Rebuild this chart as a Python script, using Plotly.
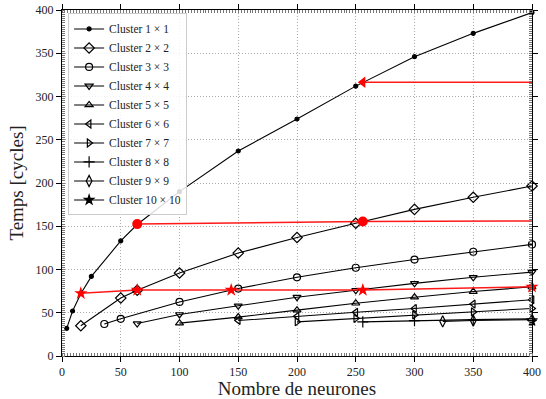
import plotly.graph_objects as go

# ---- data ----
x_c1 = [4, 9, 16, 25, 50, 64, 100, 150, 200, 250, 300, 350, 400]
y_c1 = [32, 52, 72, 92, 133, 152, 190, 237, 274, 312, 346, 373, 397]
x_c2 = [16, 50, 64, 100, 150, 200, 250, 300, 350, 400]
y_c2 = [35, 67, 76, 96, 119, 137, 153.5, 169.5, 183.5, 196.5]
x_c3 = [36, 50, 100, 150, 200, 250, 300, 350, 400]
y_c3 = [37, 43, 62.5, 78, 91, 102, 111.5, 120.5, 129]
x_c4 = [64, 100, 150, 200, 250, 300, 350, 400]
y_c4 = [37.5, 48, 58, 68, 76, 84, 91, 97]
x_c5 = [100, 150, 200, 250, 300, 350, 400]
y_c5 = [38, 45, 53, 61, 68, 74.5, 80]
x_c6 = [150, 200, 250, 300, 350, 400]
y_c6 = [41, 46, 50.5, 55, 60, 65]
x_c7 = [200, 250, 300, 350, 400]
y_c7 = [39.5, 43.5, 47.5, 51, 55]
x_c8 = [256, 300, 350, 400]
y_c8 = [39.5, 41, 42, 43]
x_c9 = [324, 350, 400]
y_c9 = [40, 41, 42]
x_c10 = [400]
y_c10 = [40]

names = ["Cluster 1 × 1", "Cluster 2 × 2", "Cluster 3 × 3", "Cluster 4 × 4",
         "Cluster 5 × 5", "Cluster 6 × 6", "Cluster 7 × 7", "Cluster 8 × 8",
         "Cluster 9 × 9", "Cluster 10 × 10"]

# red annotation series
x_arrow = [256, 400]
y_arrow = [316.5, 316.5]
x_circ = [64, 256, 400]
y_circ = [152.5, 155.5, 156]
x_star = [16, 64, 144, 256, 400]
y_star = [72.5, 76.3, 76.3, 76.3, 80]

series = [(x_c1, y_c1), (x_c2, y_c2), (x_c3, y_c3), (x_c4, y_c4), (x_c5, y_c5),
          (x_c6, y_c6), (x_c7, y_c7), (x_c8, y_c8), (x_c9, y_c9), (x_c10, y_c10)]
symbols = ["circle", "diamond-open", "circle-open", "triangle-down-open",
           "triangle-up-open", "triangle-left-open", "triangle-right-open",
           "cross-thin-open", "diamond-tall-open", "star"]
sizes = [4, 8, 7, 7, 7, 7, 7, 8, 8, 7]

FONT = "Liberation Serif"
fig = go.Figure()

for (xs, ys), nm, sym, sz in zip(series, names, symbols, sizes):
    fig.add_trace(go.Scatter(
        x=xs, y=ys, name=nm, mode="lines+markers",
        line=dict(color="black", width=1.1),
        marker=dict(symbol=sym, size=sz, color="black",
                    line=dict(color="black", width=1.2)),
        cliponaxis=False))

red = "rgba(255,0,0,0.9)"
fig.add_trace(go.Scatter(x=x_arrow, y=y_arrow, mode="lines", showlegend=False,
                         line=dict(color=red, width=1.5), cliponaxis=False))
fig.add_trace(go.Scatter(x=x_arrow[:1], y=y_arrow[:1], mode="markers", showlegend=False,
                         marker=dict(symbol="triangle-left", size=10, color="red"),
                         cliponaxis=False))
fig.add_trace(go.Scatter(x=x_circ, y=y_circ, mode="lines", showlegend=False,
                         line=dict(color=red, width=1.5), cliponaxis=False))
fig.add_trace(go.Scatter(x=x_circ[:2], y=y_circ[:2], mode="markers", showlegend=False,
                         marker=dict(symbol="circle", size=10, color="red"),
                         cliponaxis=False))
fig.add_trace(go.Scatter(x=x_star, y=y_star, mode="lines+markers", showlegend=False,
                         line=dict(color=red, width=1.5),
                         marker=dict(symbol="star", size=10, color="red"),
                         cliponaxis=False))

axis_common = dict(
    showline=True, linecolor="black", linewidth=1, mirror="allticks",
    ticks="outside", ticklen=5, tickcolor="black", tickwidth=1,
    showgrid=True, gridcolor="#aaaaaa", griddash="1px,2px", gridwidth=1,
    zeroline=False, automargin=False, ticklabeloverflow="allow",
    tickfont=dict(family=FONT, size=12, color="#222"),
    minor=dict(ticks="inside", ticklen=3, tickcolor="#777", tickwidth=1, showgrid=False),
)

fig.update_xaxes(range=[0, 400], tick0=0, dtick=50, **axis_common)
fig.update_xaxes(minor_dtick=2.5,
                 title=dict(text="Nombre de neurones", font=dict(family=FONT, size=19, color="#222"),
                            standoff=4))
fig.update_yaxes(range=[0, 400], tick0=0, dtick=50, **axis_common)
fig.update_yaxes(minor_dtick=2.5,
                 title=dict(text="Temps [cycles]", font=dict(family=FONT, size=19, color="#222"),
                            standoff=6))

fig.update_layout(
    width=546, height=399,
    margin=dict(l=62, r=14, t=10, b=43),
    plot_bgcolor="white", paper_bgcolor="white",
    font=dict(family=FONT),
    legend=dict(x=0.013, y=0.99, xanchor="left", yanchor="top",
                bgcolor="rgba(255,255,255,0.85)", bordercolor="#ccc", borderwidth=1,
                font=dict(family=FONT, size=11.5, color="#222"),
                tracegroupgap=0, itemwidth=30),
    showlegend=True,
)

fig.write_html("out.html",
               config={"displayModeBar": False},
               post_script="document.body.style.margin='0';document.body.style.overflow='hidden';")
